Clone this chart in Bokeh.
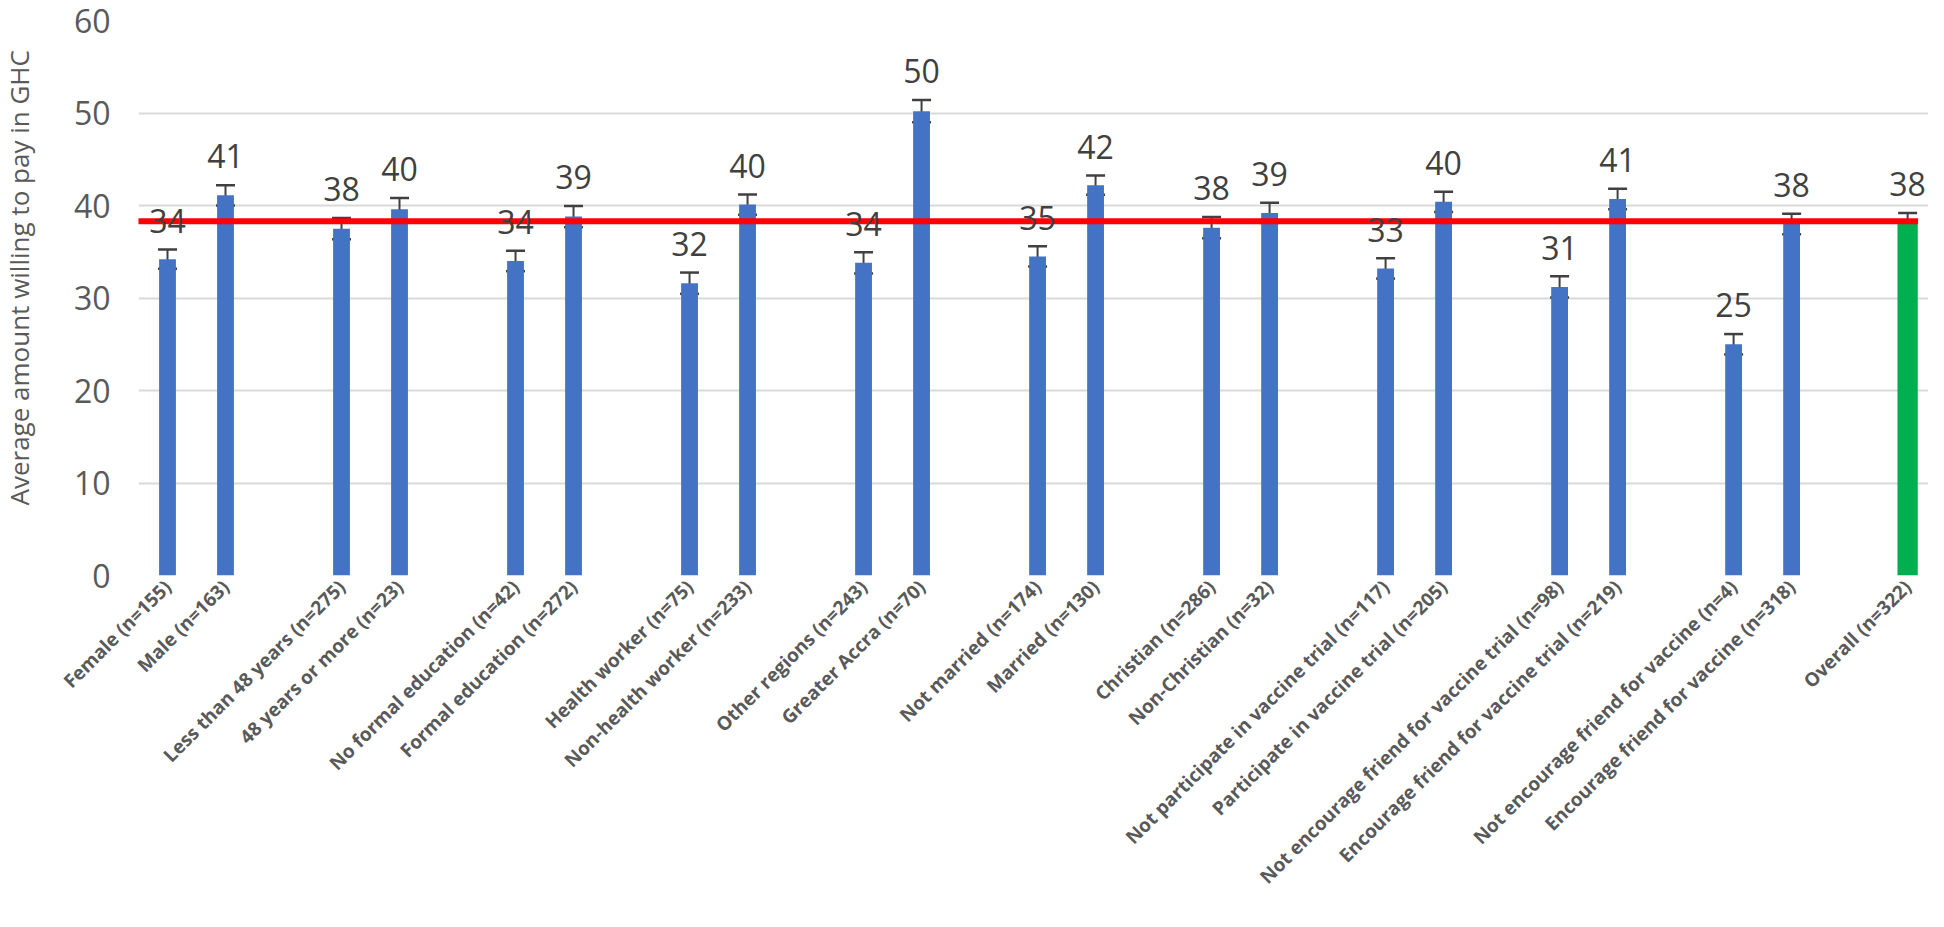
import math
from bokeh.plotting import figure
from bokeh.layouts import row
from bokeh.models import ColumnDataSource, Whisker, TeeHead, FixedTicker, Range1d
from bokeh.core.properties import value
from bokeh.embed import file_html
from bokeh.resources import INLINE

# ---------------- data ----------------
categories = [
    "Female (n=155)", "Male (n=163)",
    "Less than 48 years (n=275)", "48 years or more (n=23)",
    "No formal education (n=42)", "Formal education (n=272)",
    "Health worker (n=75)", "Non-health worker (n=233)",
    "Other regions (n=243)", "Greater Accra (n=70)",
    "Not married (n=174)", "Married (n=130)",
    "Christian (n=286)", "Non-Christian (n=32)",
    "Not participate in vaccine trial (n=117)", "Participate in vaccine trial (n=205)",
    "Not encourage friend for vaccine trial (n=98)", "Encourage friend for vaccine trial (n=219)",
    "Not encourage friend for vaccine (n=4)", "Encourage friend for vaccine (n=318)",
    "Overall (n=322)",
]
group_id = [0, 0, 1, 1, 2, 2, 3, 3, 4, 4, 5, 5, 6, 6, 7, 7, 8, 8, 9, 9, 10]
member = [0, 1, 0, 1, 0, 1, 0, 1, 0, 1, 0, 1, 0, 1, 0, 1, 0, 1, 0, 1, 0]
means = [34.2, 41.1, 37.5, 39.6, 34.0, 38.8, 31.6, 40.1, 33.8, 50.2,
         34.5, 42.2, 37.6, 39.2, 33.2, 40.4, 31.2, 40.7, 25.0, 38.0, 38.1]
err = [1.05, 1.1, 1.15, 1.2, 1.1, 1.15, 1.15, 1.1, 1.15, 1.2,
       1.1, 1.05, 1.15, 1.1, 1.1, 1.1, 1.15, 1.1, 1.1, 1.1, 1.1]
value_labels = ["34", "41", "38", "40", "34", "39", "32", "40", "34", "50",
                "35", "42", "38", "39", "33", "40", "31", "41", "25", "38", "38"]
overall_mean = 38.3
y_ticks = [0, 10, 20, 30, 40, 50, 60]
y_title = "Average amount willing to pay in GHC"

# ---------------- derived ----------------
xs = [3 * g + m for g, m in zip(group_id, member)]
is_overall = [c.startswith("Overall") for c in categories]
blue_idx = [i for i, o in enumerate(is_overall) if not o]
green_idx = [i for i, o in enumerate(is_overall) if o]


def sub(lst, idx):
    return [lst[i] for i in idx]


upper = [m + e for m, e in zip(means, err)]
lower = [m - e for m, e in zip(means, err)]

src_all = ColumnDataSource(dict(x=xs, mean=means, upper=upper, lower=lower,
                                lab=value_labels,
                                laby=[u + 3.1 for u in upper]))
src_blue = ColumnDataSource(dict(x=sub(xs, blue_idx), top=sub(means, blue_idx)))
src_green = ColumnDataSource(dict(x=sub(xs, green_idx), top=sub(means, green_idx)))

FONT = "Open Sans"

# layout geometry (pixels)
H = 911
TITLE_W = 36
W = 1928 - TITLE_W
LEFT = 138 - TITLE_W
TOP = 20
BOTTOM = 336
X0, X1 = -0.5, 30.36
Y0, Y1 = 0, 60

yr = Range1d(Y0, Y1)
p = figure(width=W, height=H, output_backend="svg", toolbar_location=None,
           x_range=Range1d(X0, X1), y_range=yr,
           min_border_left=LEFT, min_border_right=0, min_border_top=TOP,
           min_border_bottom=BOTTOM)
p.outline_line_color = None
p.background_fill_color = "white"
p.border_fill_color = "white"

p.vbar(x="x", top="top", bottom=0, width=0.29, source=src_blue,
       fill_color="#4472C4", line_color=None)
p.vbar(x="x", top="top", bottom=0, width=0.35, source=src_green,
       fill_color="#00B050", line_color=None)

# overall mean line
p.segment(x0=[-0.6], y0=[overall_mean], x1=[max(xs) + 0.18], y1=[overall_mean],
          line_color="#FF0000", line_width=6)

w = Whisker(base="x", upper="upper", lower="lower", source=src_all,
            dimension="height", line_color="#404040", line_width=2,
            upper_head=TeeHead(size=19, line_color="#404040", line_width=2.5),
            lower_head=TeeHead(size=19, line_color="#404040", line_width=2.5))
p.add_layout(w)

p.text(x="x", y="laby", text="lab", source=src_all, text_align="center",
       text_baseline="alphabetic", text_font=value(FONT),
       text_font_size="32px", text_color="#404040")

# y axis
p.yaxis.ticker = FixedTicker(ticks=y_ticks)
p.yaxis.axis_line_color = None
p.yaxis.major_tick_line_color = None
p.yaxis.major_tick_out = 0
p.yaxis.minor_tick_line_color = None
p.yaxis.major_label_text_font = FONT
p.yaxis.major_label_text_font_size = "32px"
p.yaxis.major_label_text_color = "#595959"
p.yaxis.major_label_standoff = 28

# x axis with rotated category labels
p.xaxis.ticker = FixedTicker(ticks=xs)
p.xaxis.major_label_overrides = {x: c for x, c in zip(xs, categories)}
p.xaxis.major_label_orientation = math.pi / 4
p.xaxis.axis_line_color = None
p.xaxis.major_tick_line_color = None
p.xaxis.major_tick_out = 0
p.xaxis.major_tick_in = 0
p.xaxis.minor_tick_line_color = None
p.xaxis.major_label_text_font = FONT
p.xaxis.major_label_text_font_style = "bold"
p.xaxis.major_label_text_font_size = "19px"
p.xaxis.major_label_text_color = "#595959"
p.xaxis.major_label_standoff = 8

p.xgrid.grid_line_color = None
p.ygrid.grid_line_color = "#D9D9D9"
p.ygrid.grid_line_width = 2
p.ygrid.ticker = FixedTicker(ticks=y_ticks)

# y-axis title strip on the far left (shares the y scale, its frame aligns with the chart)
px_per_unit = (H - TOP - BOTTOM) / (Y1 - Y0)
tp = figure(width=TITLE_W, height=H, output_backend="svg", toolbar_location=None,
            x_axis_location=None, y_axis_location=None,
            x_range=Range1d(0, TITLE_W), y_range=yr,
            min_border_left=0, min_border_right=0, min_border_top=TOP,
            min_border_bottom=BOTTOM)
tp.outline_line_color = None
tp.xgrid.visible = False
tp.ygrid.visible = False
tp.text(x=[18], y=[Y0 + 70 / px_per_unit], text=[y_title], angle=math.pi / 2,
        text_align="left", text_baseline="middle", text_font=value(FONT),
        text_font_size="26px", text_color="#595959")

layout = row(tp, p, spacing=0)
open("out.html", "w").write(file_html(layout, INLINE))
